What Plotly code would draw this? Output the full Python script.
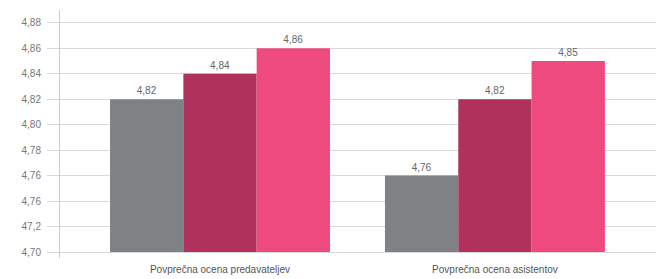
import plotly.graph_objects as go

categories = ["Povprečna ocena predavateljev", "Povprečna ocena asistentov"]
series_a = [4.82, 4.76]
series_b = [4.84, 4.82]
series_c = [4.86, 4.85]
series_names = ["A", "B", "C"]
colors = ["#7f8285", "#b0325c", "#ee4a7d"]
tick_vals = [4.70, 4.72, 4.74, 4.76, 4.78, 4.80, 4.82, 4.84, 4.86, 4.88]
tick_text = ["4,70", "47,2", "4,76", "4,76", "4,78", "4,80", "4,82", "4,84", "4,86", "4,88"]
base_val = 4.70

fig = go.Figure()
for name, vals, col in zip(series_names, [series_a, series_b, series_c], colors):
    fig.add_trace(go.Bar(
        x=[0, 1],
        y=[v - base_val for v in vals],
        base=base_val,
        name=name,
        marker=dict(color=col, line=dict(width=0)),
        text=[f"{v:.2f}".replace(".", ",") for v in vals],
        textposition="outside",
        textfont=dict(family="Liberation Sans, Arial, sans-serif", size=10, color="#666666"),
        cliponaxis=False,
    ))

# page body has an 8px default margin, so the figure is sized to fill the rest
fig.update_layout(
    width=656, height=271,
    margin=dict(l=52, r=0, t=2, b=21),
    paper_bgcolor="white", plot_bgcolor="white",
    barmode="group", bargap=0.2, bargroupgap=0,
    showlegend=False,
    font=dict(family="Liberation Sans, Arial, sans-serif", size=10, color="#666666"),
    xaxis=dict(
        tickmode="array", tickvals=[0, 1], ticktext=categories,
        range=[-0.582, 1.615],
        showgrid=False, zeroline=False, showline=False, ticks="",
        ticklabelstandoff=4,
        tickfont=dict(size=10, color="#555555"),
    ),
    yaxis=dict(
        range=[4.6953, 4.890],
        tickmode="array", tickvals=tick_vals, ticktext=tick_text,
        showgrid=True, gridcolor="#d9d9d9", gridwidth=1,
        zeroline=False,
        showline=True, linecolor="#cccccc", linewidth=1,
        ticks="outside", ticklen=12, tickcolor="#d9d9d9",
        ticklabelstandoff=4,
        tickfont=dict(size=10, color="#777777"),
    ),
)

fig.write_html("out.html")
